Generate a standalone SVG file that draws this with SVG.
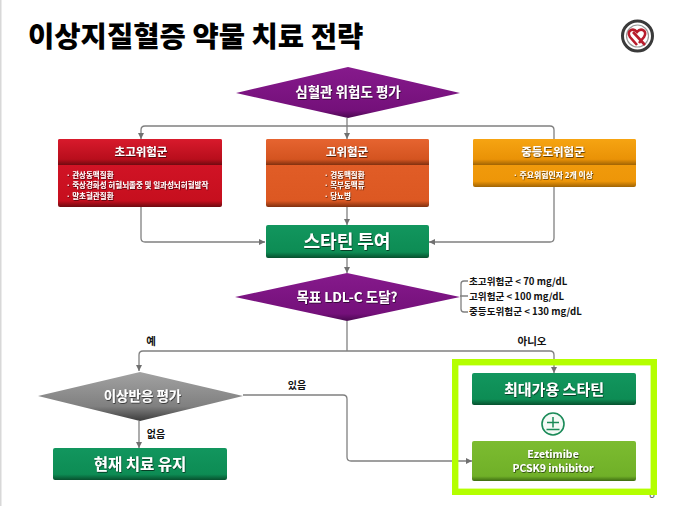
<svg xmlns="http://www.w3.org/2000/svg" width="680" height="506" viewBox="0 0 680 506">
<style>
text{font-family:"Noto Sans CJK KR","Noto Sans",sans-serif;text-anchor:middle}
.w{fill:#fff;font-weight:700;filter:url(#ts)}
.k{fill:#111;font-weight:700}
.s{font-size:7.5px}
.l{font-size:9.6px;text-anchor:start}
.c{fill:none;stroke:#808080;stroke-width:1.3;marker-end:url(#a)}
.n{fill:none;stroke:#808080;stroke-width:1.3}
</style>
<defs>
<marker id="a" markerUnits="userSpaceOnUse" markerWidth="7" markerHeight="7" refX="6" refY="3" orient="auto"><path d="M0 0L6 3L0 6z" fill="#707070"/></marker>
<filter id="ts" x="-10%" y="-20%" width="120%" height="150%"><feDropShadow dx="0.6" dy="0.8" stdDeviation="0.7" flood-color="#000" flood-opacity="0.7"/></filter>
<linearGradient id="red" x1="0" y1="0" x2="0" y2="1"><stop offset="0" stop-color="#d8162a"/><stop offset=".91" stop-color="#c60f1e"/><stop offset="1" stop-color="#6e0a10"/></linearGradient>
<linearGradient id="redh" x1="0" y1="0" x2="0" y2="1"><stop offset="0" stop-color="#d81a2c"/><stop offset=".78" stop-color="#b80e1c"/><stop offset="1" stop-color="#700a10"/></linearGradient>
<linearGradient id="org" x1="0" y1="0" x2="0" y2="1"><stop offset="0" stop-color="#e4602a"/><stop offset=".91" stop-color="#dc5822"/><stop offset="1" stop-color="#80300f"/></linearGradient>
<linearGradient id="orgh" x1="0" y1="0" x2="0" y2="1"><stop offset="0" stop-color="#e66430"/><stop offset=".78" stop-color="#d45420"/><stop offset="1" stop-color="#80300f"/></linearGradient>
<linearGradient id="amb" x1="0" y1="0" x2="0" y2="1"><stop offset="0" stop-color="#f4a010"/><stop offset=".88" stop-color="#ee9608"/><stop offset="1" stop-color="#a06404"/></linearGradient>
<linearGradient id="ambh" x1="0" y1="0" x2="0" y2="1"><stop offset="0" stop-color="#f6a412"/><stop offset=".78" stop-color="#ea9206"/><stop offset="1" stop-color="#a06404"/></linearGradient>
<linearGradient id="grn" x1="0" y1="0" x2="0" y2="1"><stop offset="0" stop-color="#12965e"/><stop offset=".82" stop-color="#0d8c54"/><stop offset="1" stop-color="#07502e"/></linearGradient>
<linearGradient id="lgr" x1="0" y1="0" x2="0" y2="1"><stop offset="0" stop-color="#7cbc30"/><stop offset=".88" stop-color="#70b028"/><stop offset="1" stop-color="#3e6c12"/></linearGradient>
<linearGradient id="pur" x1="0" y1="0" x2="0" y2="1"><stop offset="0" stop-color="#861a8c"/><stop offset=".85" stop-color="#74107a"/><stop offset="1" stop-color="#4a0850"/></linearGradient>
<linearGradient id="gry" x1="0" y1="0" x2="0" y2="1"><stop offset="0" stop-color="#a2a2a2"/><stop offset=".7" stop-color="#808080"/><stop offset="1" stop-color="#3c3c3c"/></linearGradient>
</defs>
<rect width="680" height="506" fill="#fff"/>
<rect width="1.5" height="506" fill="#d8d8d8"/>
<text id="title" x="28" y="47" class="k" style="text-anchor:start;font-size:28.6px;fill:#000;font-weight:900">이상지질혈증 약물 치료 전략</text>
<g id="logo">
<circle cx="637.500" cy="36" r="15" fill="#fff" stroke="#3a3a3a" stroke-width="3"/>
<circle cx="637.500" cy="36" r="11" fill="none" stroke="#999" stroke-width="1.200"/>
<path d="M637 45L630 37C626 31 633 27 637 32C641 27 648 31 644 37L639 43" fill="none" stroke="#b81c2c" stroke-width="2.600"/>
<path d="M633 32L645 45" stroke="#b81c2c" stroke-width="2.600" fill="none"/>
</g>
<text id="page" x="652" y="498" style="font-size:10px;fill:#555;font-family:'Liberation Sans',sans-serif">8</text>
<g id="connectors">
<path class="n" d="M347 118V126"/>
<path class="c" d="M554 139V130Q554 126 550 126H145Q141 126 141 130V139"/>
<path class="c" d="M347 126V139"/>
<path class="c" d="M141 207V238Q141 242 145 242H265"/>
<path class="c" d="M347 207V225"/>
<path class="c" d="M554 187V238Q554 242 550 242H429"/>
<path class="c" d="M347 258V273"/>
<path class="n" d="M468 281H464Q461 281 461 284V309Q461 312 464 312H468M460 296H468"/>
<path class="n" d="M347 321V351"/>
<path class="c" d="M347 351H143Q139 351 139 355V371"/>
<path class="c" d="M347 351H550Q554 351 554 355V373"/>
<path class="c" d="M139 421V448"/>
<path class="c" d="M243 395H343Q347 395 347 399V457Q347 461 351 461H472"/>
</g>
<g id="n-risk"><path d="M348 67L460 93L348 118L236 93z" fill="url(#pur)"/><text x="348" y="97" class="w" font-size="13.500">심혈관 위험도 평가</text></g>
<g id="n-vhigh">
<rect x="58" y="139" width="164" height="68" rx="2" fill="url(#red)"/>
<path d="M58 141a2 2 0 0 1 2-2h160a2 2 0 0 1 2 2v24H58z" fill="url(#redh)"/>
<text x="141" y="156" class="w" font-size="11.500">초고위험군</text>
<text x="66" y="178" class="w s" style="text-anchor:start">· 관상동맥질환</text>
<text x="66" y="188" class="w s" style="text-anchor:start">· 죽상경화성 허혈뇌졸중 및 일과성뇌허혈발작</text>
<text x="66" y="199" class="w s" style="text-anchor:start">· 말초혈관질환</text>
</g>
<g id="n-high">
<rect x="266" y="139" width="163" height="68" rx="2" fill="url(#org)"/>
<path d="M266 141a2 2 0 0 1 2-2h159a2 2 0 0 1 2 2v24H266z" fill="url(#orgh)"/>
<text x="347" y="156" class="w" font-size="11.500">고위험군</text>
<text x="324" y="178" class="w s" style="text-anchor:start">· 경동맥질환</text>
<text x="324" y="188" class="w s" style="text-anchor:start">· 복부동맥류</text>
<text x="324" y="199" class="w s" style="text-anchor:start">· 당뇨병</text>
</g>
<g id="n-mod">
<rect x="473" y="139" width="163" height="48" rx="2" fill="url(#amb)"/>
<path d="M473 141a2 2 0 0 1 2-2h159a2 2 0 0 1 2 2v24H473z" fill="url(#ambh)"/>
<text x="553" y="156" class="w" font-size="11.500">중등도위험군</text>
<text x="553" y="178" class="w" font-size="7.900">· 주요위험인자 2개 이상</text>
</g>
<g id="n-statin"><rect x="266" y="225" width="163" height="33" rx="2" fill="url(#grn)"/><text x="347" y="248" class="w" font-size="18">스타틴 투여</text></g>
<g id="n-goal"><path d="M347 273L460 297L347 321L235 297z" fill="url(#pur)"/><text x="347" y="302" class="w" font-size="13.500">목표 LDL-C 도달?</text></g>
<g id="goal-labels">
<text x="469" y="285" class="k l">초고위험군 &lt; 70 mg/dL</text>
<text x="469" y="300" class="k l">고위험군 &lt; 100 mg/dL</text>
<text x="469" y="315" class="k l">중등도위험군 &lt; 130 mg/dL</text>
</g>
<g id="edge-labels">
<text x="151" y="345" class="k" font-size="10.500">예</text>
<text x="532" y="345" class="k" font-size="10.500">아니오</text>
<text x="297" y="389" class="k" font-size="10">있음</text>
<text x="156" y="438" class="k" font-size="10">없음</text>
</g>
<g id="n-adverse"><path d="M140 372L243 396L140 421L38 396z" fill="url(#gry)"/><text x="142.500" y="401" class="w" font-size="13.500">이상반응 평가</text></g>
<g id="n-keep"><rect x="53" y="448" width="174" height="32" rx="2" fill="url(#grn)"/><text x="140" y="470" class="w" font-size="15.500">현재 치료 유지</text></g>
<rect id="highlight" x="455.200" y="362.200" width="198.600" height="129.600" fill="none" stroke="#b4ff00" stroke-width="6.400"/>
<g id="n-max"><rect x="472" y="373" width="164" height="32" rx="2" fill="url(#grn)"/><text x="554" y="394.500" class="w" font-size="15">최대가용 스타틴</text></g>
<g id="n-plus">
<circle cx="553" cy="424" r="11" fill="#f4faf6" stroke="#1a8a58" stroke-width="1.600"/>
<path d="M547 422.500H559M553 417V427.500M546.500 429.500H559.500" stroke="#1a8a58" stroke-width="1.500" fill="none"/>
</g>
<g id="n-add"><rect x="472" y="441" width="164" height="40" rx="2" fill="url(#lgr)"/>
<text x="553" y="457.500" class="w" font-size="10.500">Ezetimibe</text>
<text x="553" y="471.500" class="w" font-size="10.500">PCSK9 inhibitor</text></g>
</svg>
